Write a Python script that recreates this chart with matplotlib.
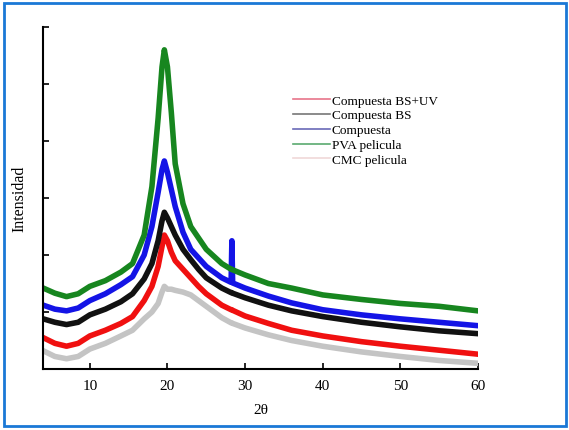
import matplotlib
matplotlib.use('Agg')
import matplotlib.pyplot as plt
from matplotlib.lines import Line2D
from matplotlib.patches import Rectangle

plt.rcParams['font.family'] = ['Liberation Serif', 'DejaVu Serif']

# 2theta positions (grados)
theta = [4, 5.5, 7, 8.5, 10, 12, 14, 15.5, 17, 18, 18.8, 19.3, 19.6, 20, 20.5,
         21, 22, 23, 24, 25, 27, 28.2, 28.3, 28.4, 30, 33, 36, 40, 45, 50, 55, 60]

# intensidades estimadas (unidades arbitrarias)
compuesta_bs_uv = [0.55, 0.45, 0.40, 0.45, 0.58, 0.68, 0.80, 0.92, 1.20, 1.45, 1.80, 2.15, 2.35, 2.25, 2.05,
                   1.90, 1.75, 1.60, 1.45, 1.32, 1.12, 1.04, 1.04, 1.03, 0.93, 0.80, 0.68, 0.58, 0.48, 0.40, 0.33, 0.26]
compuesta_bs = [0.88, 0.82, 0.78, 0.82, 0.95, 1.05, 1.18, 1.32, 1.58, 1.85, 2.25, 2.60, 2.75, 2.65, 2.50,
                2.35, 2.10, 1.92, 1.75, 1.60, 1.42, 1.34, 1.34, 1.33, 1.25, 1.12, 1.02, 0.92, 0.82, 0.74, 0.67, 0.62]
compuesta = [1.12, 1.05, 1.02, 1.07, 1.20, 1.32, 1.48, 1.62, 2.00, 2.50, 3.10, 3.50, 3.65, 3.45, 3.15,
             2.85, 2.40, 2.10, 1.95, 1.80, 1.60, 1.52, 2.25, 1.51, 1.42, 1.28, 1.16, 1.04, 0.95, 0.88, 0.82, 0.76]
pva_pelicula = [1.42, 1.33, 1.27, 1.32, 1.45, 1.55, 1.70, 1.85, 2.35, 3.20, 4.40, 5.30, 5.60, 5.30, 4.50,
                3.60, 2.90, 2.50, 2.30, 2.10, 1.85, 1.75, 1.75, 1.74, 1.65, 1.50, 1.42, 1.30, 1.22, 1.15, 1.10, 1.02]
cmc_pelicula = [0.32, 0.22, 0.18, 0.22, 0.35, 0.45, 0.58, 0.68, 0.88, 1.00, 1.15, 1.35, 1.45, 1.40, 1.40,
                1.38, 1.35, 1.30, 1.20, 1.10, 0.90, 0.81, 0.81, 0.80, 0.72, 0.60, 0.50, 0.40, 0.30, 0.22, 0.15, 0.10]

nombres = ['Compuesta BS+UV', 'Compuesta BS', 'Compuesta', 'PVA pelicula', 'CMC pelicula']

fig = plt.figure(figsize=(5.69, 4.31), dpi=100)
ax = fig.add_axes([0.076, 0.1415, 0.764, 0.7935])

#orden de dibujo: gris abajo, verde arriba
ax.plot(theta, cmc_pelicula, color='#c4c4c4', lw=4)
ax.plot(theta, compuesta_bs_uv, color='#f01010', lw=4)
ax.plot(theta, compuesta_bs, color='#111111', lw=4)
ax.plot(theta, compuesta, color='#1414e6', lw=4)
ax.plot(theta, pva_pelicula, color='#17861f', lw=4)

ax.set_xlim(4, 60)
ax.set_ylim(0, 6)
ax.set_xticks([10, 20, 30, 40, 50, 60])
ax.set_yticks([0, 1, 2, 3, 4, 5, 6])
ax.set_yticklabels([])
ax.tick_params(direction='in', length=4, width=1.2, labelsize=11)
ax.tick_params(axis='x', pad=7)
for s in ['top', 'right']:
    ax.spines[s].set_visible(False)
ax.spines['left'].set_linewidth(1.5)
ax.spines['bottom'].set_linewidth(1.5)

ax.set_xlabel('2θ', fontsize=11, labelpad=8)
ax.set_ylabel('Intensidad', fontsize=11.5, labelpad=8)

#leyenda con lineas finas y claras como en el original
colores_leyenda = ['#e8748a', '#777777', '#6a6ab8', '#5aaa70', '#f0d8d8']
handles = [Line2D([], [], color=c, lw=1.2) for c in colores_leyenda]
fig.legend(handles, nombres, loc='upper left', bbox_to_anchor=(288 / 569, 1 - 90 / 431),
           frameon=False, fontsize=9.5, handlelength=2.8, handletextpad=0.1,
           labelspacing=0.2, borderaxespad=0)

fig.add_artist(Rectangle((4 / 569, 4 / 431), 562 / 569, 423 / 431, transform=fig.transFigure,
                         fill=False, edgecolor='#1a78d6', lw=2))

fig.savefig('out.png', dpi=100)
